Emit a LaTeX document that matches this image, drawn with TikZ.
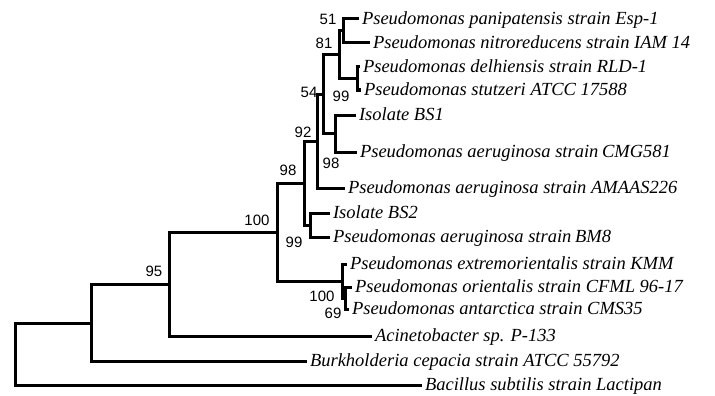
\documentclass[tikz,border=0pt]{standalone}
\usepackage{fontspec}
\setmainfont{Liberation Serif}
\newfontfamily\numfamily{Liberation Sans}
\newcommand{\leaffont}{\fontsize{18.5}{20}\selectfont\itshape}
\newcommand{\labfont}{\fontsize{15}{16}\selectfont\numfamily}
\begin{document}
\begin{tikzpicture}[x=1pt,y=-1pt,
  branch/.style={line width=3pt, line join=miter, draw=black},
  leaf/.style={anchor=west, inner xsep=0pt, inner ysep=0pt, outer xsep=3pt,
    text height=11pt, text depth=0pt, font=\leaffont, text=black},
  boot/.style={inner sep=0pt, text height=10.7pt, text depth=0pt, font=\labfont, text=black}]
\useasboundingbox (0,0) rectangle (715,396);
\fill[white] (0,0) rectangle (715,396);
% internal nodes
\coordinate (A) at (343,31);
\coordinate (B) at (357,78.5);
\coordinate (C) at (339,55);
\coordinate (E) at (335,133.5);
\coordinate (D) at (323,94);
\coordinate (F) at (317,141);
\coordinate (H) at (310,225);
\coordinate (G) at (304,183);
\coordinate (K) at (345,298);
\coordinate (J) at (342,281);
\coordinate (I) at (277,232);
\coordinate (L) at (169,284);
\coordinate (M) at (91,323);
\coordinate (R) at (15,354);
% leaves
\node[leaf] (esp) at (359,19) {Pseudomonas panipatensis strain Esp-1};
\node[leaf] (iam) at (370,43) {Pseudomonas nitroreducens strain IAM 14};
\node[leaf] (rld) at (360,67) {Pseudomonas delhiensis strain RLD-1};
\node[leaf] (stu) at (361,90) {Pseudomonas stutzeri ATCC 17588};
\node[leaf] (bs1) at (356,115) {Isolate BS1};
\node[leaf] (cmg) at (357,152) {Pseudomonas aeruginosa strain\kern-1pt\ CMG581};
\node[leaf] (ama) at (345,188) {Pseudomonas aeruginosa strain AMAAS226};
\node[leaf] (bs2) at (330,213) {Isolate BS2};
\node[leaf] (bm8) at (330,237) {Pseudomonas aeruginosa strain\kern-1pt\ BM8};
\node[leaf] (kmm) at (347,264) {Pseudomonas extremorientalis strain KMM};
\node[leaf] (cfml) at (352,287) {Pseudomonas orientalis strain CFML 96-17};
\node[leaf] (cms) at (349,309) {Pseudomonas antarctica strain CMS35};
\node[leaf] (aci) at (372,336) {Acinetobacter sp. P-133};
\node[leaf] (bur) at (307,361) {Burkholderia cepacia strain ATCC 55792};
\node[leaf] (bac) at (422,385) {Bacillus subtilis strain Lactipan};
% branches
\draw[branch] (esp.west) -| (A) |- (iam.west);
\draw[branch] (rld.west) -| (B) |- (stu.west);
\draw[branch] (A) -| (C) |- (B);
\draw[branch] (bs1.west) -| (E) |- (cmg.west);
\draw[branch] (C) -| (D) |- (E);
\draw[branch] (D) -| (F) |- (ama.west);
\draw[branch] (bs2.west) -| (H) |- (bm8.west);
\draw[branch] (F) -| (G) |- (H);
\draw[branch] (cfml.west) -| (K) |- (cms.west);
\draw[branch] (kmm.west) -| (J) |- (K);
\draw[branch] (G) -| (I) |- (J);
\draw[branch] (I) -| (L) |- (aci.west);
\draw[branch] (L) -| (M) |- (bur.west);
\draw[branch] (M) -| (R) |- (bac.west);
% bootstrap values
\node[boot] (b51) at (328,19) {51};
\node[boot] (b81) at (324,43) {81};
\node[boot] (b54) at (309,92) {54};
\node[boot] (b99a) at (341,96) {99};
\node[boot] (b92) at (303,132) {92};
\node[boot] (b98a) at (331,163) {98};
\node[boot] (b98b) at (288,170) {98};
\node[boot] (b99b) at (294,242) {99};
\node[boot] (b100a) at (257,220) {100};
\node[boot] (b100b) at (322,296) {100};
\node[boot] (b69) at (333,313) {69};
\node[boot] (b95) at (154,271) {95};
\end{tikzpicture}
\end{document}
